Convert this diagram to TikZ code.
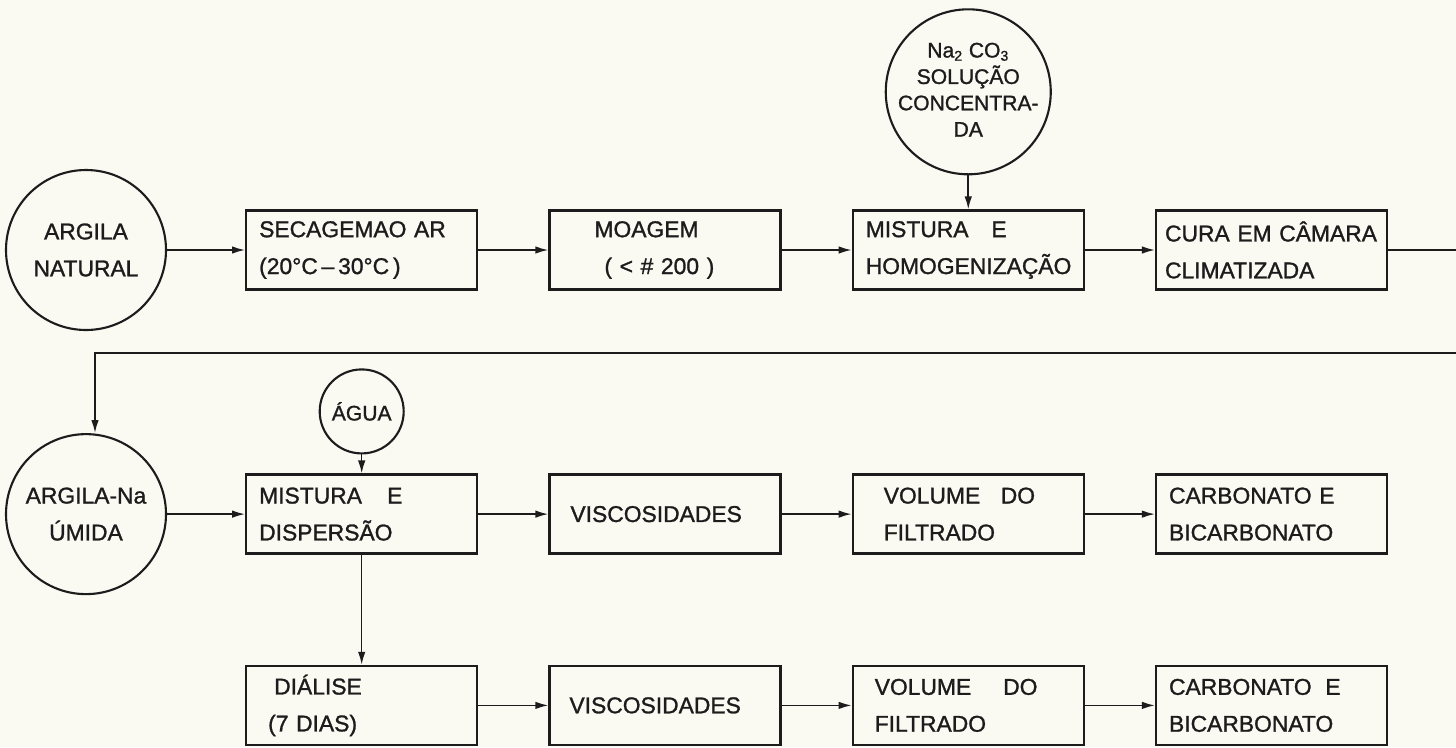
\documentclass[tikz,border=0pt]{standalone}
\usepackage{fontspec}
\setmainfont{Liberation Sans}[FakeBold=1.2]
\usepackage{xcolor}
\usepackage{tikz}
\usetikzlibrary{positioning,arrows.meta}
\definecolor{paper}{RGB}{250,250,243}
\definecolor{ink}{RGB}{28,28,28}
\newcommand{\boxfont}{\fontsize{13}{21}\selectfont}
\newcommand{\circfont}{\fontsize{12}{15}\selectfont}
\newcommand{\circtext}[1]{\makebox[0pt]{\begin{tabular}{@{}c@{}}#1\end{tabular}}}
\newcommand{\ind}[1]{\hspace*{#1}}
\tikzset{
  blk/.style    ={draw=ink, rectangle, align=left, text width=4.1cm, line width=1.3pt, minimum height=1.58cm, minimum width=4.62cm, font=\boxfont, text=ink},
  src/.style    ={draw=ink, circle, align=center, line width=1.2pt, minimum size=3.2cm, inner sep=1pt, font=\boxfont, text=ink},
  arr/.style    ={-{Latex[length=2.6mm,width=1.5mm]}, line width=0.9pt, draw=ink},
}

\begin{document}
\begin{tikzpicture}
  \useasboundingbox[fill=paper] (0,0) rectangle (29.12,-14.94);

  % first line
  \node[src] (nat) at (1.72,-5.0) {ARGILA\\NATURAL};
  \node[blk, right=1.56cm of nat] (sec)  {SECAGEMAO AR\\(20°C\,–\,30°C\,)};
  \node[blk, right=1.4cm of sec]  (moa)  {\ind{0.64cm}MOAGEM\\\ind{0.84cm}( < \# 200 )};
  \node[blk, right=1.4cm of moa]  (hom)  {MISTURA\hspace{1em}E\\HOMOGENIZAÇÃO};
  \node[blk, right=1.4cm of hom]  (cura) {\ind{-0.08cm}\mbox{CURA EM CÂMARA}\\\ind{-0.08cm}CLIMATIZADA};
  \node[src, minimum size=3.3cm, font=\circfont, above=0.68cm of hom] (na)
    {\raisebox{-0.14cm}{\circtext{Na\textsubscript{2} CO\textsubscript{3}\\SOLUÇÃO\\CONCENTRA-\\DA}}};

  % second line
  \node[src, below=2.04cm of nat] (umida) {ARGILA-Na\\ÚMIDA};
  \node[blk, right=1.56cm of umida] (mix)  {MISTURA\hspace{1.1em}E\\DISPERSÃO};
  \node[blk, right=1.4cm of mix]   (visa)  {\ind{0.16cm}VISCOSIDADES};
  \node[blk, right=1.4cm of visa]  (vola)  {\ind{0.36cm}VOLUME\hspace{0.9em}DO\\\ind{0.36cm}FILTRADO};
  \node[blk, right=1.4cm of vola]  (carba) {CARBONATO E\\BICARBONATO};
  \node[src, minimum size=1.68cm, inner sep=0pt, font=\circfont, above=0.38cm of mix] (agua) {ÁGUA};

  % third line
  \node[blk, below=2.2cm of mix]  (dial)  {\ind{0.3cm}DIÁLISE\\\ind{0.18cm}(7 DIAS)};
  \node[blk, right=1.4cm of dial] (visb)  {\ind{0.14cm}VISCOSIDADES};
  \node[blk, right=1.4cm of visb] (volb)  {\ind{0.18cm}VOLUME\hspace{1.4em}DO\\\ind{0.18cm}FILTRADO};
  \node[blk, right=1.4cm of volb] (carbb) {CARBONATO\hspace{0.6em}E\\BICARBONATO};

  \coordinate (rt) at (29.3,-5.0);
  \coordinate (rb) at (29.3,-7.06);

  \draw[arr] (nat) -- (sec);
  \draw[arr] (sec) -- (moa);
  \draw[arr] (moa) -- (hom);
  \draw[arr] (hom) -- (cura);
  \draw[arr] (na) -- (hom);
  \draw[arr] (cura.east) -- (rt) -- (rb) -| ([xshift=0.18cm]umida.north);
  \draw[arr] (umida) -- (mix);
  \draw[arr] (agua) -- (mix);
  \draw[arr] (mix) -- (visa);
  \draw[arr] (visa) -- (vola);
  \draw[arr] (vola) -- (carba);
  \draw[arr] (mix) -- (dial);
  \draw[arr] (dial) -- (visb);
  \draw[arr] (visb) -- (volb);
  \draw[arr] (volb) -- (carbb);
\end{tikzpicture}
\end{document}
